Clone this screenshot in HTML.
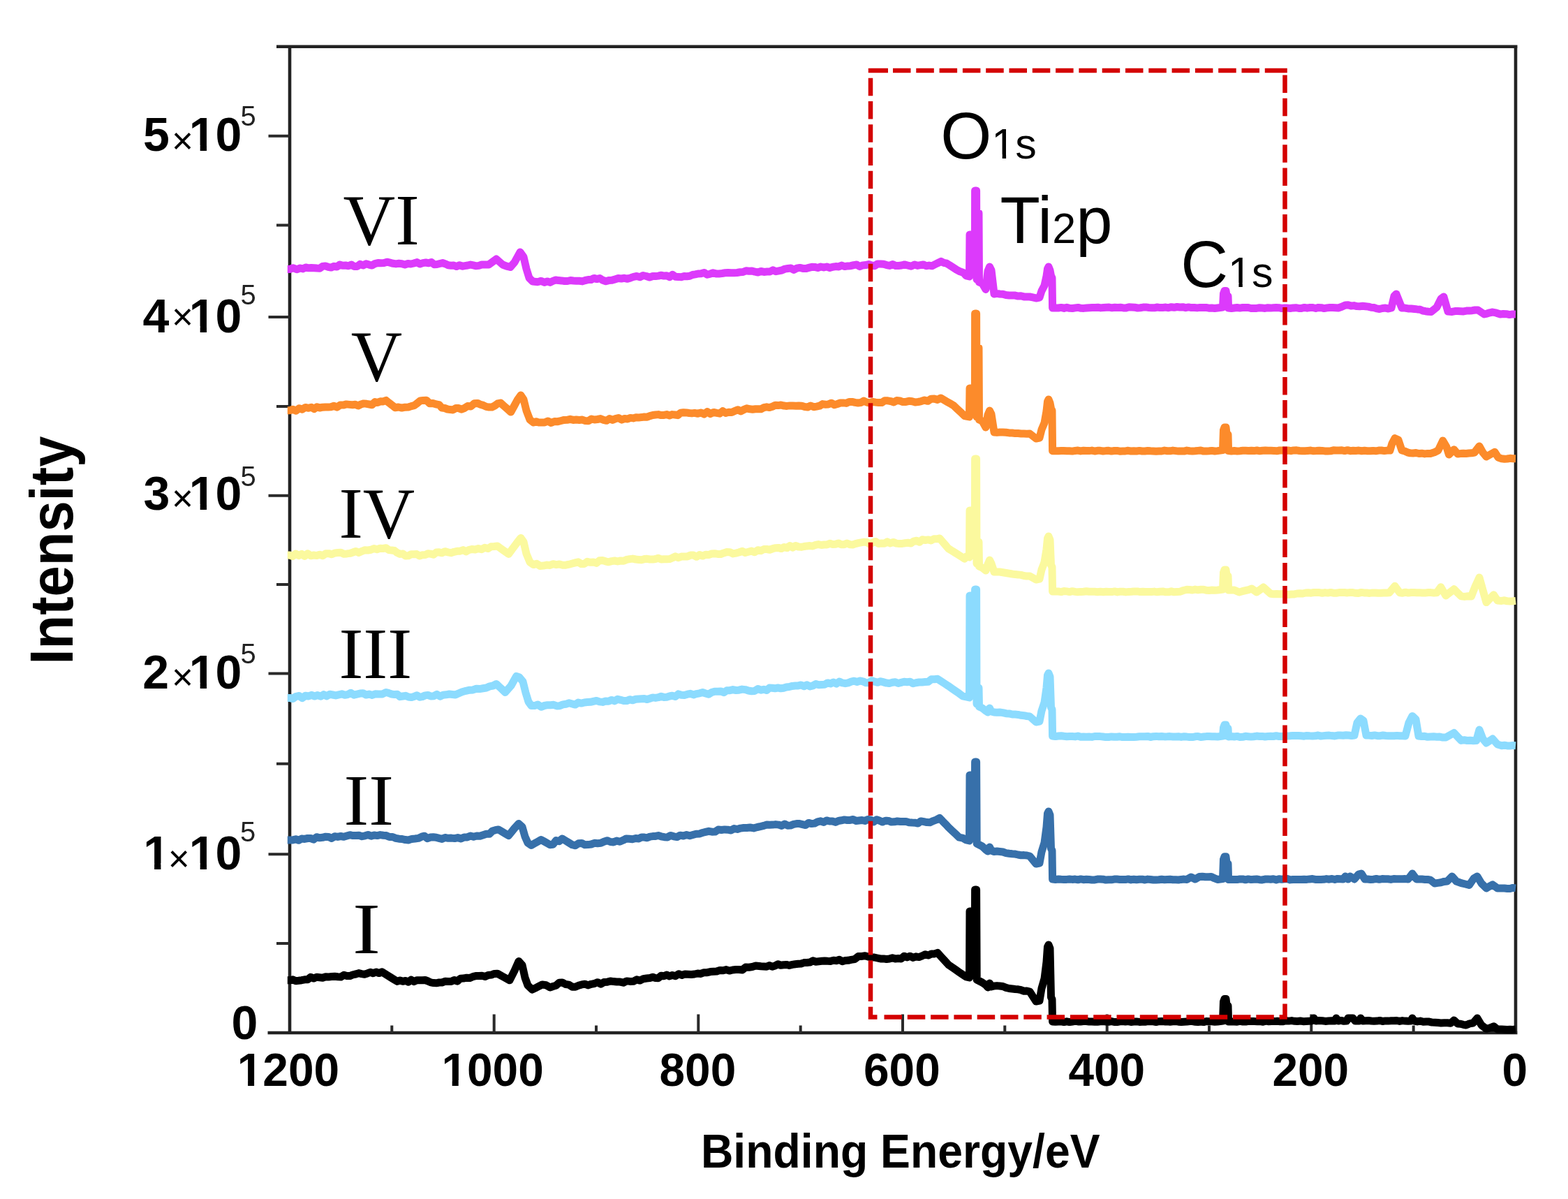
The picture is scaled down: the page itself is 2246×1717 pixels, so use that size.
<!DOCTYPE html>
<html><head><meta charset="utf-8"><title>XPS survey spectra</title>
<style>html,body{margin:0;padding:0;background:#fff;overflow:hidden;}svg{display:block;}</style>
</head><body>
<svg xmlns="http://www.w3.org/2000/svg" width="2246" height="1717" viewBox="0 0 2246 1717">
<rect width="2246" height="1717" fill="#fff"/>
<g stroke="#222" stroke-width="4.6" fill="none" stroke-linecap="butt">
<path d="M396 66.8 H2173.5 M383.5 1479.0 H2173.5 M415.0 64.5 V1481.3 M2171.0 64.5 V1481.3"/>
<path d="M384.5 1223.2 H415.0 M384.5 964.4 H415.0 M384.5 709.7 H415.0 M384.5 454.0 H415.0 M384.5 194.8 H415.0 M396 1351.1 H415.0 M396 1093.8 H415.0 M396 837.0 H415.0 M396 581.9 H415.0 M396 322.6 H415.0 M1878.3 1479.0 V1452.5 M1585.7 1479.0 V1452.5 M1293.0 1479.0 V1452.5 M1000.3 1479.0 V1452.5 M707.7 1479.0 V1452.5 M2024.7 1479.0 V1468.5 M1732.0 1479.0 V1468.5 M1439.3 1479.0 V1468.5 M1146.7 1479.0 V1468.5 M854.0 1479.0 V1468.5 M561.3 1479.0 V1468.5 " stroke="#2a2a2a" stroke-width="4.0"/>
</g>
<path d="M411.8 385.5 415.0 385.5 420.0 383.7 425.0 385.8 430.0 384.0 434.0 384.9 438.0 383.0 442.0 383.8 446.0 383.6 450.0 383.7 454.0 384.0 458.0 384.2 462.0 381.4 466.0 380.9 470.0 382.3 474.2 383.1 478.3 381.3 482.5 382.1 486.7 379.0 490.8 380.2 495.0 380.0 499.2 380.8 503.3 379.0 507.5 381.6 511.7 381.4 515.8 378.3 520.0 380.0 524.3 377.8 528.6 379.1 532.9 380.1 537.1 377.6 541.4 376.5 545.7 376.7 550.0 376.5 554.3 375.2 558.6 376.2 562.9 377.3 567.1 377.9 571.4 377.3 575.7 377.7 580.0 379.0 584.3 377.6 588.6 378.0 592.9 377.0 597.1 375.6 601.4 378.1 605.7 376.6 610.0 376.0 614.0 376.8 618.0 375.5 622.0 378.7 626.0 378.5 630.0 377.5 634.0 376.6 638.0 377.9 642.0 379.8 646.0 380.3 650.0 380.0 654.0 381.6 658.0 379.7 662.0 381.2 666.0 380.6 670.0 380.0 674.0 379.1 678.0 379.9 682.0 380.8 686.0 380.4 690.0 379.0 695.0 379.0 700.0 379.0 705.5 375.0 711.0 371.0 715.5 375.0 720.0 379.0 725.5 381.1 731.0 382.5 737.0 375.7 741.0 368.4 745.0 361.0 750.0 368.0 754.0 385.0 758.0 398.0 763.0 403.0 770.0 403.7 775.0 402.4 780.0 404.4 784.0 402.9 788.0 404.4 792.0 402.4 796.0 401.0 800.0 401.6 804.3 401.9 808.6 402.5 812.9 402.5 817.1 401.5 821.4 401.9 825.7 402.2 830.0 402.3 834.2 402.9 838.3 401.5 842.5 400.6 846.7 400.5 850.8 398.4 855.0 399.6 859.2 398.5 863.5 401.3 867.8 402.8 872.0 401.6 876.5 401.3 881.0 399.9 885.5 398.5 890.0 399.0 894.4 398.3 898.8 399.3 903.2 397.9 907.6 396.3 912.0 395.5 916.6 396.8 921.2 394.5 925.8 395.5 930.4 397.1 935.0 395.5 939.0 395.6 943.0 395.1 947.0 394.2 951.0 395.1 955.0 394.8 959.2 396.6 963.3 393.3 967.5 396.2 971.7 396.4 975.8 396.8 980.0 395.5 984.0 395.7 988.0 395.2 992.0 393.5 996.0 392.9 1000.0 392.0 1004.3 391.7 1008.6 390.4 1012.9 393.3 1017.1 392.2 1021.4 390.8 1025.7 391.9 1030.0 391.9 1034.3 391.5 1038.6 390.8 1042.9 390.4 1047.1 390.8 1051.4 390.8 1055.7 390.5 1060.0 389.8 1064.3 389.5 1068.6 387.7 1072.9 388.3 1077.1 387.9 1081.4 389.2 1085.7 390.0 1090.0 388.5 1094.3 389.4 1098.6 389.1 1102.9 389.0 1107.1 386.8 1111.4 388.7 1115.7 387.8 1120.0 387.0 1124.3 385.1 1128.6 384.5 1132.9 384.1 1137.1 386.4 1141.4 384.2 1145.7 383.4 1150.0 384.4 1154.3 384.6 1158.6 383.4 1162.9 382.3 1167.1 382.4 1171.4 383.5 1175.7 382.0 1180.0 383.0 1184.3 382.0 1188.6 383.4 1192.9 382.2 1197.1 381.6 1201.4 381.9 1205.7 380.1 1210.0 381.6 1214.3 380.9 1218.6 380.7 1222.9 379.6 1227.1 379.0 1231.4 381.6 1235.7 379.9 1240.0 379.6 1244.3 378.6 1248.6 380.0 1252.9 380.7 1257.1 377.9 1261.4 377.9 1265.7 378.3 1270.0 379.6 1274.3 380.4 1278.6 378.5 1282.9 380.5 1287.1 380.5 1291.4 380.0 1295.7 378.9 1300.0 380.0 1305.0 381.2 1310.0 379.0 1314.2 380.4 1318.3 379.7 1322.5 378.9 1326.7 380.7 1330.8 380.1 1335.0 380.8 1339.3 378.6 1343.7 376.5 1348.0 374.3 1352.0 376.3 1356.0 377.2 1360.0 379.6 1365.0 382.9 1370.0 386.2 1375.0 388.8 1380.0 390.4 1384.0 395.0 1388.5 396.0 1389.0 336.0 1396.5 336.0 1396.6 273.0 1398.6 273.0 1399.0 400.0 1400.6 305.0 1402.0 305.0 1402.5 404.0 1407.0 406.0 1412.0 414.5 1415.0 388.0 1417.5 382.0 1420.0 387.0 1424.0 421.0 1428.0 420.4 1432.0 421.0 1436.5 421.2 1441.0 422.6 1445.5 423.0 1450.0 423.0 1454.2 423.1 1458.3 424.1 1462.5 423.8 1466.7 424.9 1470.8 425.0 1475.0 425.0 1479.5 425.9 1484.0 427.0 1489.0 426.0 1492.0 416.6 1496.0 409.0 1499.0 395.5 1500.5 385.0 1502.0 382.0 1504.0 387.0 1505.5 395.0 1507.0 398.0 1507.6 441.0 1511.8 440.7 1516.0 441.0 1520.0 440.4 1524.1 441.4 1528.1 440.3 1532.2 441.3 1536.2 441.5 1540.3 440.9 1544.3 440.4 1548.4 441.3 1552.4 441.4 1556.5 441.0 1560.5 440.8 1564.6 440.6 1568.6 440.5 1572.7 440.3 1576.7 440.9 1580.7 440.5 1584.8 440.2 1588.8 440.1 1592.9 440.8 1596.9 440.3 1601.0 440.5 1605.0 440.3 1609.1 440.9 1613.1 440.9 1617.2 439.8 1621.2 440.0 1625.3 440.2 1629.3 441.0 1633.3 440.7 1637.4 440.1 1641.4 439.9 1645.5 440.5 1649.5 440.7 1653.6 440.8 1657.6 440.0 1661.7 440.6 1665.7 440.4 1669.8 440.1 1673.8 440.7 1677.9 439.7 1681.9 440.3 1686.0 439.5 1690.0 440.0 1694.2 439.7 1698.3 440.7 1702.5 439.9 1706.6 440.6 1710.8 440.5 1714.9 440.9 1719.1 440.4 1723.2 440.4 1727.4 440.4 1731.5 441.2 1735.7 441.0 1739.8 441.5 1744.0 441.0 1751.5 440.0 1752.5 420.5 1754.0 416.5 1756.0 416.5 1757.2 423.9 1759.0 423.9 1759.6 441.0 1763.8 441.5 1768.0 441.0 1772.0 440.5 1776.0 441.1 1780.0 440.5 1784.0 440.4 1788.0 440.5 1792.0 441.5 1796.0 441.4 1800.0 441.4 1804.0 440.8 1808.0 441.1 1812.0 441.4 1816.0 440.8 1820.0 441.1 1824.0 440.7 1828.0 440.5 1832.0 440.7 1836.0 441.5 1840.0 441.0 1844.1 441.1 1848.1 441.5 1852.2 440.9 1856.2 440.7 1860.3 441.4 1864.3 441.4 1868.4 440.4 1872.4 441.2 1876.5 440.5 1880.5 440.5 1884.6 441.5 1888.6 440.4 1892.7 440.7 1896.7 441.6 1900.8 440.9 1904.8 440.5 1908.9 440.6 1912.9 440.7 1917.0 441.0 1922.0 439.3 1927.0 437.0 1931.1 436.7 1935.3 438.0 1939.4 437.6 1943.6 438.6 1947.7 438.7 1951.9 438.2 1956.0 438.7 1960.0 439.1 1964.0 440.2 1968.0 440.5 1972.0 441.9 1976.0 442.5 1980.2 441.5 1984.5 441.1 1988.8 442.0 1993.0 441.0 1997.0 424.0 2000.0 421.0 2004.0 431.0 2008.0 441.0 2012.5 441.1 2017.0 441.9 2021.5 442.1 2026.0 442.5 2030.0 442.9 2034.0 443.2 2038.0 445.0 2042.0 445.7 2046.0 446.3 2050.0 446.4 2054.0 443.2 2058.0 440.0 2064.0 428.0 2068.0 425.0 2074.0 446.0 2080.0 446.4 2084.1 445.6 2088.2 445.5 2092.3 445.7 2096.4 445.9 2100.6 445.1 2104.7 445.0 2108.8 444.7 2112.9 444.0 2117.0 444.0 2121.5 447.0 2126.0 450.0 2130.0 449.1 2134.0 447.8 2138.0 447.0 2143.5 448.2 2149.0 450.0 2153.4 449.5 2157.8 449.7 2162.2 450.6 2166.6 449.9 2171.0 450.0" fill="none" stroke="#dc3afb" stroke-width="11.0" stroke-linejoin="round"/>
<path d="M411.8 587.8 415.0 587.8 419.5 586.2 424.0 588.3 428.5 584.7 433.0 586.2 437.5 583.4 442.0 584.3 446.0 583.2 450.0 585.7 454.0 582.7 458.0 584.0 462.0 583.2 466.0 582.9 470.0 582.9 474.0 582.7 478.4 581.2 482.9 583.1 487.3 580.0 491.7 580.1 496.1 578.9 500.6 579.4 505.0 579.8 509.0 579.3 513.0 581.0 517.0 579.0 521.0 577.9 525.0 578.3 529.0 579.0 533.0 579.8 537.0 575.6 541.0 576.6 545.0 574.8 549.0 574.9 553.0 573.4 557.3 576.9 561.7 580.3 566.0 583.8 570.8 583.0 575.5 584.1 580.2 583.2 585.0 583.0 589.2 581.6 593.4 580.6 597.6 577.5 601.8 574.0 606.0 573.4 610.8 573.2 615.5 577.8 620.2 577.6 625.0 579.0 629.0 579.6 633.0 584.1 637.0 584.5 641.0 586.0 645.0 586.6 649.0 586.9 653.0 584.5 657.0 584.6 661.0 586.2 665.0 584.6 669.8 581.5 674.5 582.0 679.2 577.8 684.0 577.4 688.1 579.2 692.2 580.4 696.4 582.4 700.5 583.1 704.6 583.0 708.7 581.0 712.9 577.9 717.0 577.0 721.9 581.3 726.8 585.7 731.7 590.0 736.4 581.5 741.0 573.0 746.0 566.0 750.0 572.0 754.0 588.0 759.0 601.0 764.0 605.0 768.0 603.7 772.0 605.1 776.0 605.0 780.0 605.0 784.7 603.0 789.5 605.5 794.2 603.5 799.0 603.7 803.7 602.5 808.0 601.4 812.4 601.3 816.7 600.3 821.1 601.4 825.4 601.0 829.8 601.4 834.1 601.1 838.5 602.6 842.8 602.7 847.2 600.0 851.5 601.0 855.8 600.5 860.1 599.6 864.5 601.3 868.8 602.3 873.1 599.5 877.4 601.4 881.7 599.6 886.0 598.5 890.4 601.1 894.7 599.5 899.0 600.0 903.0 598.4 907.0 598.9 911.0 597.7 915.0 597.9 919.0 597.6 923.0 597.0 927.0 597.2 931.0 595.6 935.0 594.5 939.0 594.0 943.0 593.6 947.0 594.6 951.0 594.4 955.0 593.6 959.0 594.9 963.0 593.6 967.0 594.0 971.0 594.7 975.0 591.2 979.0 590.7 983.0 590.9 987.0 591.5 991.0 591.9 995.0 591.4 999.5 592.3 1004.0 590.9 1008.5 593.1 1013.1 589.6 1017.6 592.6 1022.1 590.4 1026.6 591.4 1030.9 592.2 1035.2 588.7 1039.5 591.5 1043.8 590.3 1048.1 590.6 1052.5 588.6 1056.8 586.7 1061.1 589.0 1065.4 586.6 1069.7 584.8 1074.0 585.8 1078.0 586.2 1082.0 585.8 1086.0 585.7 1090.0 585.8 1094.1 583.7 1098.2 582.8 1102.3 583.6 1106.4 582.3 1110.5 580.3 1114.6 580.6 1118.7 580.0 1123.0 581.1 1127.2 581.4 1131.5 580.9 1135.7 581.0 1140.0 581.2 1144.2 581.0 1148.5 581.2 1152.7 582.5 1157.0 583.0 1161.2 581.0 1165.5 582.7 1169.7 582.1 1174.0 581.2 1178.2 578.6 1182.5 579.2 1186.7 578.9 1191.0 577.2 1195.2 579.8 1199.5 578.5 1203.7 577.0 1207.9 576.9 1212.1 577.4 1216.3 575.5 1220.5 575.4 1224.7 576.4 1229.0 577.0 1233.2 576.5 1237.4 574.1 1241.6 576.1 1245.8 577.0 1250.0 575.4 1254.3 576.1 1258.6 576.6 1262.9 576.6 1267.2 573.7 1271.6 573.8 1275.9 574.6 1280.2 575.9 1284.5 573.6 1288.8 573.9 1293.2 575.6 1297.6 575.4 1302.0 574.3 1306.5 574.8 1310.9 576.0 1315.3 575.5 1319.7 574.6 1324.3 573.1 1329.0 574.3 1333.7 571.2 1338.3 571.1 1342.9 572.4 1347.6 570.0 1352.2 572.7 1356.8 575.4 1361.4 578.1 1366.0 580.8 1371.2 585.7 1376.4 590.6 1381.6 595.5 1384.0 596.0 1388.5 597.0 1389.0 556.0 1396.5 556.0 1396.6 449.0 1398.6 449.0 1399.0 597.0 1400.6 498.0 1402.0 498.0 1402.5 601.0 1407.0 603.0 1412.0 612.0 1415.0 594.0 1417.5 588.0 1420.0 593.0 1424.0 619.0 1428.0 619.4 1432.0 619.0 1436.5 619.0 1441.0 619.2 1445.5 619.9 1450.0 620.0 1454.2 620.6 1458.3 620.6 1462.5 621.0 1466.7 621.0 1470.8 621.2 1475.0 621.0 1479.5 624.5 1484.0 628.0 1489.0 627.0 1492.0 615.1 1496.0 605.6 1499.0 588.8 1500.5 575.0 1502.0 572.0 1504.0 577.0 1505.5 585.0 1507.0 588.0 1507.6 645.7 1511.8 645.8 1516.0 645.7 1520.0 645.5 1524.0 645.6 1528.0 645.7 1532.0 645.7 1536.0 646.1 1540.0 645.4 1544.0 645.1 1548.0 645.9 1552.0 645.3 1556.0 645.5 1560.0 645.6 1564.0 645.1 1568.0 646.0 1572.0 645.3 1576.0 645.3 1580.0 646.0 1584.0 645.6 1588.0 645.3 1592.0 646.1 1596.0 645.5 1600.0 645.4 1604.0 646.2 1608.0 646.0 1612.0 645.9 1616.0 645.3 1620.0 646.0 1624.0 645.7 1628.0 646.0 1632.0 645.4 1636.0 646.0 1640.0 646.0 1644.0 645.5 1648.0 645.8 1652.0 646.0 1656.0 646.2 1660.0 646.1 1664.0 646.0 1668.0 645.1 1672.0 645.7 1676.0 645.8 1680.0 645.1 1684.0 645.6 1688.0 646.1 1692.0 646.1 1696.0 646.1 1700.0 645.1 1704.0 645.7 1708.0 646.1 1712.0 645.8 1716.0 645.4 1720.0 645.0 1724.0 646.1 1728.0 646.1 1732.0 645.8 1736.0 645.4 1740.0 646.0 1744.0 645.6 1751.5 644.6 1752.5 616.0 1754.0 612.0 1756.0 612.0 1757.2 622.1 1759.0 622.1 1759.6 645.6 1763.8 646.0 1768.0 645.6 1772.1 645.9 1776.1 645.7 1780.2 645.3 1784.2 645.3 1788.3 645.4 1792.3 645.3 1796.4 645.6 1800.4 645.0 1804.5 645.8 1808.5 645.3 1812.6 645.1 1816.7 645.2 1820.7 645.3 1824.8 645.4 1828.8 645.8 1832.9 645.0 1836.9 645.1 1841.0 645.2 1845.0 645.0 1849.1 645.7 1853.1 644.9 1857.2 644.8 1861.3 645.5 1865.3 645.7 1869.4 645.8 1873.4 645.4 1877.5 645.1 1881.5 645.8 1885.6 645.6 1889.6 645.3 1893.7 645.4 1897.7 645.9 1901.8 645.9 1905.9 645.8 1909.9 644.8 1914.0 645.1 1918.0 645.1 1922.1 644.8 1926.1 645.6 1930.2 644.7 1934.2 645.7 1938.3 645.3 1942.3 645.4 1946.4 645.1 1950.5 645.7 1954.5 645.3 1958.6 645.7 1962.6 645.7 1966.7 645.4 1970.7 645.8 1974.8 645.1 1978.8 645.0 1982.9 645.6 1986.9 645.1 1991.0 645.1 1994.0 635.0 1998.0 627.6 2003.0 630.0 2008.0 645.0 2012.0 646.0 2016.0 647.8 2020.0 648.8 2024.1 648.9 2028.3 648.5 2032.4 649.5 2036.6 649.2 2040.7 649.9 2044.9 649.4 2049.0 649.5 2054.5 647.8 2060.0 645.0 2066.7 631.0 2072.0 640.0 2075.4 651.0 2082.7 643.7 2088.0 650.0 2092.0 649.6 2096.0 649.3 2100.0 649.5 2104.0 649.0 2108.0 648.8 2112.0 648.0 2119.0 639.0 2124.0 648.0 2129.0 653.9 2133.0 651.7 2137.0 649.5 2141.0 647.3 2146.0 655.0 2151.0 656.8 2155.0 657.2 2159.0 657.0 2163.0 656.3 2167.0 656.7 2171.0 656.8" fill="none" stroke="#fc8b2b" stroke-width="11.0" stroke-linejoin="round"/>
<path d="M411.8 795.0 415.0 795.0 419.3 796.6 423.6 793.1 427.9 795.6 432.2 793.4 436.5 796.4 440.8 792.8 445.1 795.8 449.4 795.0 453.7 795.6 458.0 794.2 462.3 795.7 466.6 792.7 471.0 792.7 475.3 793.8 479.6 792.0 483.9 791.6 488.2 791.2 492.5 793.2 496.9 792.9 501.2 792.4 505.5 791.0 509.8 789.4 514.1 791.4 518.5 789.3 522.8 787.7 527.1 788.0 531.4 787.3 535.7 785.5 540.0 786.7 544.4 785.3 548.7 785.5 553.0 784.7 557.0 787.6 561.0 788.0 565.0 788.5 569.0 791.6 573.0 793.4 577.0 793.0 581.0 796.0 585.0 795.8 589.0 793.7 593.0 793.8 597.0 793.6 601.0 796.0 605.0 794.8 609.0 794.6 613.0 792.7 617.0 793.1 621.0 794.2 625.0 791.0 629.0 790.8 633.0 791.8 637.3 789.7 641.7 790.8 646.0 791.7 650.3 790.3 654.7 789.3 659.0 789.2 663.4 787.6 667.7 789.9 672.0 787.3 676.4 786.5 680.7 787.0 685.2 785.6 689.8 786.7 694.3 784.2 698.9 785.6 703.4 782.8 708.0 782.5 712.5 782.0 716.5 784.9 720.5 787.7 724.5 790.5 728.5 793.4 734.2 785.7 740.0 778.0 746.0 770.4 750.0 776.0 754.0 793.0 759.0 805.0 764.0 808.6 768.8 807.2 773.5 810.4 778.3 810.1 783.0 809.1 787.8 809.4 792.3 807.7 796.9 808.7 801.4 807.9 806.0 809.3 810.5 809.2 815.1 808.2 819.6 807.0 823.9 805.9 828.3 804.8 832.6 807.5 837.0 807.4 841.3 804.3 845.7 805.3 850.0 804.9 854.4 806.4 858.7 802.7 863.1 802.5 867.4 803.8 871.7 804.8 876.1 803.6 880.4 803.0 884.7 803.9 889.0 803.0 893.4 803.2 897.7 801.4 902.0 800.6 906.3 800.1 910.7 801.0 915.0 801.4 919.0 801.7 923.0 800.6 927.0 800.3 931.0 801.0 935.0 801.1 939.0 800.5 943.0 799.3 947.0 801.0 951.0 800.7 955.0 800.8 959.0 800.6 963.0 799.0 967.3 796.8 971.7 798.7 976.0 797.1 980.3 796.9 984.7 796.9 989.0 795.1 993.4 795.0 997.7 797.3 1002.0 794.5 1006.4 796.1 1010.7 794.2 1015.0 794.6 1019.4 793.0 1023.7 792.7 1028.1 793.4 1032.4 793.5 1036.8 791.9 1041.1 790.6 1045.5 790.7 1049.8 792.9 1054.2 792.1 1058.5 791.0 1063.0 789.3 1067.5 791.5 1072.0 790.3 1076.5 789.1 1081.0 790.8 1085.5 787.7 1090.0 788.7 1094.2 786.5 1098.4 786.5 1102.6 787.2 1106.8 785.7 1111.0 784.7 1115.1 784.4 1119.2 785.6 1123.3 783.5 1127.4 784.6 1131.4 781.5 1135.5 784.1 1139.6 781.5 1143.7 783.0 1147.8 783.4 1151.9 782.5 1156.0 781.9 1160.1 781.6 1164.1 782.0 1168.2 780.4 1172.3 779.6 1176.4 780.5 1180.5 780.0 1184.6 779.9 1188.7 778.3 1192.8 779.6 1196.9 779.2 1200.9 777.9 1205.0 779.7 1209.1 779.8 1213.2 778.0 1217.3 779.7 1221.4 780.0 1225.5 778.6 1229.6 777.6 1233.6 776.9 1237.7 776.2 1241.8 776.5 1245.9 779.0 1250.0 777.0 1254.2 775.5 1258.5 778.6 1262.7 777.9 1266.9 778.3 1271.1 775.9 1275.4 777.9 1279.6 776.4 1283.8 778.1 1288.0 778.6 1292.3 778.4 1296.5 777.7 1300.6 777.3 1304.8 778.0 1308.9 775.1 1313.0 774.2 1317.1 776.2 1321.2 772.8 1325.4 773.5 1329.5 772.9 1333.6 774.0 1337.8 771.7 1341.9 771.8 1346.0 771.0 1350.1 775.8 1354.3 780.7 1358.4 785.5 1363.0 788.4 1367.7 791.3 1372.3 794.2 1377.0 797.1 1381.6 800.0 1384.0 797.0 1388.5 798.0 1389.0 731.0 1396.5 731.0 1396.6 657.0 1398.6 657.0 1399.0 807.0 1400.6 776.0 1402.0 776.0 1402.5 811.0 1407.0 813.0 1412.0 817.0 1415.0 808.0 1417.5 802.0 1420.0 807.0 1424.0 819.0 1428.0 819.0 1432.0 819.0 1436.5 819.7 1441.0 820.5 1445.5 821.2 1450.0 822.0 1454.2 822.6 1458.3 822.9 1462.5 823.4 1466.7 824.5 1470.8 825.1 1475.0 825.0 1479.5 827.5 1484.0 830.0 1489.0 829.0 1492.0 815.7 1496.0 805.2 1499.0 786.6 1500.5 771.0 1502.0 768.0 1504.0 773.0 1505.5 809.0 1507.0 812.0 1507.6 847.0 1511.8 846.7 1516.0 847.0 1520.0 847.6 1524.0 846.5 1528.0 846.9 1532.0 847.6 1536.0 846.7 1540.0 847.4 1544.0 847.8 1548.0 847.4 1552.0 847.2 1556.0 846.7 1560.0 847.3 1564.1 847.2 1568.1 847.3 1572.2 847.7 1576.2 847.2 1580.3 847.7 1584.4 847.2 1588.4 847.5 1592.5 847.6 1596.6 846.9 1600.6 847.9 1604.7 847.2 1608.8 847.3 1612.8 847.9 1616.9 847.4 1620.9 847.3 1625.0 846.9 1629.1 846.9 1633.1 847.6 1637.2 847.3 1641.2 847.5 1645.3 847.5 1649.4 847.5 1653.4 847.1 1657.5 847.8 1661.6 847.2 1665.6 846.9 1669.7 847.8 1673.8 847.8 1677.8 846.8 1681.9 847.8 1685.9 847.5 1690.0 847.3 1695.0 845.5 1700.0 844.3 1704.0 844.5 1708.0 845.0 1712.0 844.1 1716.0 844.8 1720.0 844.3 1724.0 844.2 1728.0 845.3 1732.0 845.4 1736.0 845.1 1740.0 845.3 1744.0 845.0 1751.5 844.0 1752.5 820.0 1754.0 816.0 1756.0 816.0 1757.2 824.7 1759.0 824.7 1759.6 845.0 1763.8 844.9 1768.0 845.0 1775.0 848.0 1779.5 846.7 1784.0 845.6 1788.5 844.6 1793.0 843.0 1800.0 848.0 1804.9 844.5 1809.8 841.0 1814.9 845.6 1820.0 850.3 1824.3 850.7 1828.6 850.5 1832.9 850.8 1837.1 850.6 1841.4 851.2 1845.7 851.4 1850.0 851.0 1854.0 850.9 1858.0 850.0 1862.0 849.7 1866.0 850.0 1870.0 849.0 1874.0 848.8 1878.0 849.2 1882.0 848.5 1886.0 848.5 1890.0 848.6 1894.0 849.2 1898.0 848.6 1902.0 849.1 1906.0 848.4 1910.0 849.2 1914.0 849.2 1918.0 848.6 1922.0 848.6 1926.0 848.6 1930.0 848.9 1934.0 848.5 1938.0 848.6 1942.0 849.3 1946.0 849.4 1950.0 848.4 1954.0 848.9 1958.0 849.1 1962.0 849.4 1966.0 848.9 1970.0 848.9 1974.0 849.2 1978.0 849.2 1982.0 849.1 1986.0 849.0 1990.0 848.8 1994.0 844.0 1998.0 839.3 2005.0 848.8 2009.1 849.2 2013.2 848.2 2017.2 849.1 2021.3 848.5 2025.4 848.6 2029.5 848.7 2033.5 848.8 2037.6 848.9 2041.7 848.9 2045.8 848.6 2049.8 848.6 2053.9 849.0 2058.0 848.8 2063.8 840.8 2071.0 853.0 2076.8 848.4 2082.7 843.7 2087.8 848.8 2093.0 853.9 2097.8 854.4 2102.7 853.8 2107.5 853.9 2113.0 840.0 2119.0 827.0 2124.0 845.0 2129.0 862.6 2134.2 857.2 2139.5 851.7 2145.0 860.0 2151.0 860.4 2155.0 859.8 2159.0 860.8 2163.0 860.9 2167.0 860.8 2171.0 860.4" fill="none" stroke="#fbf99e" stroke-width="11.0" stroke-linejoin="round"/>
<path d="M411.8 999.4 415.0 999.4 419.5 1000.6 424.0 997.3 428.5 996.5 433.0 999.6 437.5 996.3 442.0 997.0 446.3 995.3 450.7 997.0 455.0 995.6 459.3 997.2 463.6 994.6 468.0 996.9 472.3 994.3 476.6 995.0 480.9 995.9 485.3 994.8 489.6 993.8 493.9 995.3 498.3 994.5 502.6 992.2 507.0 995.2 511.3 994.1 515.7 993.1 520.0 992.7 524.4 995.1 528.7 994.1 533.1 995.4 537.4 993.8 542.6 994.0 547.8 993.9 553.0 991.4 557.0 992.6 561.0 994.0 565.0 994.6 569.0 994.3 573.0 997.7 577.0 997.0 581.0 996.3 585.0 998.0 589.0 998.6 593.0 997.5 597.0 995.7 601.0 998.2 605.0 997.6 609.0 995.9 613.0 995.4 617.0 997.0 621.4 996.7 625.8 994.4 630.3 997.2 634.7 995.2 639.1 994.8 643.5 994.0 648.0 994.5 652.4 994.9 656.8 993.0 662.1 990.7 667.4 989.3 672.7 988.2 677.5 987.9 682.3 986.2 687.0 986.6 691.8 985.8 696.6 985.0 701.4 982.9 706.2 982.0 711.0 979.5 715.2 983.5 719.5 987.4 723.7 991.4 727.9 986.7 732.0 982.0 739.6 968.3 744.0 970.0 749.0 976.0 753.0 992.0 757.0 1005.0 761.0 1010.5 765.7 1010.6 770.4 1009.0 775.1 1012.3 779.8 1010.5 784.2 1009.7 788.6 1009.7 793.1 1009.3 797.5 1010.9 801.9 1010.7 806.3 1008.9 810.8 1008.2 815.2 1006.8 819.6 1008.0 823.9 1009.1 828.3 1006.1 832.6 1007.1 837.0 1006.0 841.3 1005.6 845.7 1005.3 850.0 1004.3 854.4 1003.4 858.7 1004.9 863.1 1005.4 867.4 1004.0 871.7 1004.3 876.1 1002.4 880.4 1003.9 884.7 1001.3 889.0 1002.3 893.4 1003.5 897.7 1003.6 902.0 1001.7 906.3 1002.8 910.7 1001.3 915.0 1001.0 919.0 1000.7 923.0 1000.5 927.0 1001.6 931.0 1000.3 935.0 998.9 939.0 999.4 943.0 998.7 947.0 997.3 951.0 998.4 955.0 998.2 959.0 997.0 963.0 996.2 967.3 997.5 971.7 993.9 976.0 995.3 980.3 995.5 984.7 994.2 989.0 993.3 993.4 994.9 997.7 993.6 1002.0 992.8 1006.4 991.6 1010.7 993.0 1015.0 994.2 1019.4 991.6 1023.7 990.3 1028.1 990.2 1032.4 989.9 1036.8 991.7 1041.1 988.8 1045.5 988.7 1049.8 987.6 1054.2 988.5 1058.5 988.2 1063.0 987.1 1067.5 987.6 1072.0 989.0 1076.5 989.7 1081.0 989.4 1085.5 986.5 1090.0 988.2 1094.0 987.3 1098.1 988.5 1102.1 985.1 1106.2 985.2 1110.2 985.8 1114.3 984.9 1118.3 985.8 1122.4 985.2 1126.4 983.9 1130.6 983.5 1134.8 982.4 1139.1 982.1 1143.3 981.9 1147.5 980.9 1151.7 982.8 1155.9 980.7 1160.1 983.0 1164.4 981.9 1168.6 979.5 1172.8 980.8 1177.0 980.4 1181.2 980.3 1185.5 977.9 1189.7 979.0 1193.9 977.0 1198.1 979.2 1202.3 976.0 1206.5 977.9 1210.8 978.7 1215.0 977.8 1219.2 976.1 1223.4 975.2 1227.6 976.4 1231.9 975.0 1236.1 975.8 1240.3 977.8 1244.5 977.7 1248.7 974.8 1252.9 976.2 1257.2 977.3 1261.4 975.7 1265.6 976.9 1269.8 978.1 1274.0 978.5 1278.3 977.3 1282.5 976.7 1286.7 978.5 1290.9 977.4 1295.1 976.3 1299.3 976.7 1303.6 976.3 1307.8 978.8 1312.0 977.7 1316.4 977.0 1320.9 976.9 1325.3 976.5 1329.7 976.3 1334.1 972.7 1338.6 972.7 1343.0 972.3 1348.1 975.6 1353.3 979.0 1358.4 982.3 1363.6 985.9 1368.7 989.5 1373.9 993.1 1379.0 996.9 1384.0 998.0 1388.5 999.0 1389.0 853.0 1396.5 853.0 1396.6 844.0 1398.6 844.0 1399.0 1008.0 1400.6 985.0 1402.0 985.0 1402.5 1012.0 1407.0 1014.0 1412.0 1018.0 1415.0 1020.0 1417.5 1014.0 1420.0 1019.0 1424.0 1020.0 1428.0 1020.3 1432.0 1020.0 1436.5 1020.6 1441.0 1021.7 1445.5 1021.9 1450.0 1023.0 1454.2 1023.1 1458.3 1023.4 1462.5 1024.3 1466.7 1024.7 1470.8 1025.5 1475.0 1026.0 1479.5 1030.0 1484.0 1034.0 1489.0 1033.0 1492.0 1017.9 1496.0 1006.0 1499.0 985.0 1500.5 967.0 1502.0 964.0 1504.0 969.0 1505.5 1013.0 1507.0 1016.0 1507.6 1054.0 1511.8 1054.6 1516.0 1054.0 1520.0 1053.7 1524.0 1054.3 1528.0 1054.7 1532.0 1054.5 1536.0 1054.5 1540.0 1054.9 1544.0 1054.0 1548.0 1055.3 1552.0 1055.1 1556.0 1055.3 1560.0 1055.0 1564.0 1055.4 1568.0 1054.5 1572.0 1054.5 1576.0 1054.6 1580.0 1055.0 1584.0 1055.6 1588.0 1055.5 1592.0 1054.9 1596.0 1055.2 1600.0 1055.3 1604.0 1054.8 1608.0 1055.6 1612.0 1055.6 1616.0 1055.3 1620.0 1055.5 1624.0 1055.4 1628.0 1055.2 1632.0 1054.8 1636.0 1054.7 1640.0 1054.7 1644.0 1054.4 1648.0 1055.5 1652.0 1054.7 1656.0 1054.4 1660.0 1054.8 1664.0 1054.5 1668.0 1054.9 1672.0 1054.8 1676.0 1054.6 1680.0 1055.0 1684.0 1054.9 1688.0 1054.8 1692.0 1055.4 1696.0 1054.8 1700.0 1055.1 1704.0 1055.5 1708.0 1055.6 1712.0 1054.8 1716.0 1054.4 1720.0 1055.6 1724.0 1055.0 1728.0 1054.6 1732.0 1054.5 1736.0 1054.7 1740.0 1054.8 1744.0 1055.0 1751.5 1054.0 1752.5 1042.0 1754.0 1038.0 1756.0 1038.0 1757.2 1043.1 1759.0 1043.1 1759.6 1055.0 1763.8 1054.5 1768.0 1055.0 1772.0 1054.4 1776.0 1055.5 1780.0 1055.3 1784.0 1054.3 1788.0 1054.7 1792.0 1055.1 1796.0 1054.7 1800.0 1054.1 1804.0 1054.4 1808.0 1054.4 1812.0 1055.0 1816.0 1054.5 1820.0 1054.3 1824.0 1054.5 1828.0 1053.7 1832.0 1054.5 1836.0 1054.6 1840.0 1054.4 1844.0 1053.9 1848.0 1053.8 1852.0 1053.4 1856.0 1053.5 1860.0 1053.5 1864.0 1053.8 1868.0 1054.2 1872.0 1053.4 1876.0 1053.7 1880.0 1053.9 1884.0 1053.8 1888.0 1053.0 1892.0 1054.1 1896.0 1053.6 1900.0 1053.2 1904.0 1053.1 1908.0 1053.6 1912.0 1053.9 1916.0 1053.1 1920.0 1053.1 1924.0 1053.3 1928.0 1052.7 1932.0 1053.0 1936.0 1053.6 1940.0 1053.0 1944.0 1035.0 1948.8 1029.0 1953.0 1032.0 1957.0 1053.0 1961.0 1053.1 1965.0 1053.5 1969.0 1052.9 1973.0 1053.7 1977.0 1053.7 1981.0 1053.0 1985.0 1053.5 1989.0 1053.7 1993.0 1053.7 1997.0 1053.8 2001.0 1053.4 2005.0 1053.8 2009.0 1053.7 2013.0 1053.9 2018.0 1035.0 2023.0 1025.4 2028.0 1030.0 2032.0 1054.0 2036.3 1054.6 2040.7 1054.3 2045.0 1055.3 2049.3 1055.0 2053.7 1054.8 2058.0 1055.2 2062.3 1055.1 2066.7 1056.1 2071.0 1056.0 2076.8 1052.8 2082.7 1049.5 2087.8 1055.0 2093.0 1060.4 2097.3 1059.8 2101.7 1060.5 2106.0 1060.2 2110.4 1060.7 2114.7 1060.4 2119.0 1045.0 2124.0 1058.0 2129.0 1064.0 2133.5 1061.0 2138.0 1058.0 2145.0 1066.0 2151.0 1067.7 2155.0 1067.2 2159.0 1067.9 2163.0 1068.0 2167.0 1067.4 2171.0 1067.7" fill="none" stroke="#8cdbfe" stroke-width="11.0" stroke-linejoin="round"/>
<path d="M411.8 1203.0 415.0 1203.0 419.3 1202.9 423.6 1201.8 427.8 1203.3 432.1 1201.0 436.4 1201.4 440.7 1200.5 445.0 1200.5 449.2 1202.1 453.5 1198.7 457.8 1199.8 462.1 1199.3 466.5 1198.2 470.8 1198.4 475.1 1200.4 479.5 1197.7 483.8 1198.4 488.2 1197.5 492.5 1198.3 496.8 1197.0 501.2 1195.7 505.5 1196.6 509.8 1196.4 514.2 1196.3 518.5 1197.7 522.9 1196.8 527.2 1195.5 531.6 1197.2 535.9 1195.9 540.3 1196.6 544.6 1195.6 549.0 1196.3 553.3 1196.6 557.8 1198.5 562.4 1198.5 566.9 1200.3 571.4 1201.2 575.9 1201.5 580.5 1202.6 585.0 1203.0 589.8 1201.4 594.5 1201.0 599.2 1200.4 604.0 1198.2 608.1 1197.2 612.3 1200.7 616.4 1199.1 620.6 1198.7 624.7 1199.2 628.9 1200.4 633.0 1201.4 637.5 1199.5 642.1 1200.3 646.6 1200.1 651.2 1200.6 655.7 1199.6 660.3 1200.9 664.8 1199.0 669.3 1198.9 673.9 1197.0 678.4 1198.3 683.0 1197.0 687.5 1197.3 692.1 1195.7 696.6 1194.2 701.0 1194.3 705.3 1190.0 709.6 1188.7 714.0 1187.9 718.8 1190.8 723.7 1193.7 728.5 1196.6 732.8 1191.3 737.0 1186.0 743.0 1179.5 748.0 1184.0 752.0 1198.0 756.0 1207.0 761.0 1210.5 765.7 1207.8 770.3 1205.2 775.0 1202.5 779.3 1204.9 783.5 1207.3 787.8 1209.7 792.2 1209.2 796.5 1203.6 800.9 1204.7 805.3 1201.0 810.1 1203.9 814.8 1206.8 819.6 1209.7 824.2 1210.8 828.7 1207.7 833.3 1207.4 837.8 1209.8 842.4 1209.6 846.9 1209.0 851.5 1207.3 856.0 1207.7 860.6 1207.3 865.1 1205.2 869.7 1203.7 874.2 1205.5 878.8 1205.9 883.3 1204.1 887.8 1205.3 892.4 1203.3 896.9 1201.0 901.4 1201.2 905.9 1201.7 910.5 1200.5 915.0 1201.0 919.0 1198.9 923.0 1199.1 927.0 1199.8 931.0 1198.1 935.0 1197.6 939.0 1197.4 943.0 1196.5 947.0 1197.8 951.6 1198.7 956.1 1198.9 960.7 1196.4 965.2 1197.8 969.8 1198.6 974.3 1196.2 978.9 1197.0 983.4 1195.6 988.0 1196.8 992.5 1195.5 997.1 1194.2 1001.6 1194.1 1006.2 1192.5 1010.7 1191.4 1015.2 1190.3 1019.8 1191.2 1024.3 1191.1 1028.9 1188.0 1033.4 1188.5 1038.0 1187.9 1042.5 1188.2 1047.1 1189.1 1051.6 1186.5 1056.2 1187.5 1060.7 1186.1 1065.3 1185.5 1069.8 1185.5 1074.4 1185.0 1079.6 1185.9 1084.8 1184.5 1090.0 1183.4 1094.2 1182.4 1098.4 1181.0 1102.6 1181.2 1106.8 1181.1 1111.0 1180.6 1115.3 1181.1 1119.6 1182.4 1123.9 1180.0 1128.2 1182.2 1132.4 1182.1 1136.7 1180.4 1141.0 1179.6 1145.3 1179.6 1149.6 1180.6 1153.9 1181.6 1158.2 1178.4 1162.5 1179.6 1166.8 1179.1 1171.1 1176.8 1175.4 1175.8 1179.7 1177.5 1184.0 1174.9 1188.3 1176.0 1192.5 1176.0 1196.7 1177.4 1201.0 1175.5 1205.2 1174.8 1209.4 1173.9 1213.6 1174.5 1217.8 1174.4 1222.0 1173.5 1226.3 1175.5 1230.5 1175.0 1234.7 1174.5 1238.9 1175.5 1243.1 1173.5 1247.3 1174.2 1251.5 1176.9 1255.7 1173.8 1260.0 1175.3 1264.2 1177.1 1268.4 1175.2 1272.6 1175.4 1276.8 1177.1 1281.0 1176.8 1285.2 1176.0 1289.5 1176.4 1293.7 1176.6 1297.9 1176.4 1302.1 1177.7 1306.4 1178.1 1310.6 1178.2 1314.8 1179.1 1319.0 1175.9 1323.3 1176.7 1327.5 1177.6 1332.1 1177.8 1336.8 1175.6 1341.4 1173.9 1346.0 1171.4 1350.1 1175.8 1354.3 1180.1 1358.4 1184.5 1363.6 1189.4 1368.8 1194.3 1374.0 1199.2 1379.0 1200.1 1384.0 1203.0 1388.5 1204.0 1389.0 1110.0 1396.5 1110.0 1396.6 1091.0 1398.6 1091.0 1399.2 1208.0 1407.0 1212.0 1412.0 1216.8 1415.0 1219.0 1417.5 1213.0 1420.0 1218.0 1424.0 1219.5 1428.0 1219.0 1432.0 1219.5 1436.5 1220.0 1441.0 1221.6 1445.5 1222.3 1450.0 1222.8 1454.2 1223.1 1458.3 1224.0 1462.5 1224.7 1466.7 1224.6 1470.8 1225.0 1475.0 1226.0 1479.5 1231.5 1484.0 1237.0 1489.0 1236.0 1492.0 1219.8 1496.0 1207.0 1499.0 1184.5 1500.5 1165.0 1502.0 1162.0 1504.0 1167.0 1505.5 1215.0 1507.0 1218.0 1507.6 1259.0 1511.8 1259.4 1516.0 1259.0 1520.0 1259.3 1524.0 1259.5 1528.0 1259.4 1532.0 1259.0 1536.0 1259.4 1540.0 1259.1 1544.0 1259.8 1548.0 1258.9 1552.0 1259.7 1556.0 1259.3 1560.0 1259.5 1564.0 1260.0 1568.0 1259.9 1572.0 1259.1 1576.0 1258.9 1580.0 1259.2 1584.0 1260.1 1588.0 1259.8 1592.0 1259.8 1596.0 1259.1 1600.0 1259.1 1604.0 1259.4 1608.0 1259.5 1612.0 1259.6 1616.0 1258.9 1620.0 1259.9 1624.0 1259.2 1628.0 1259.8 1632.0 1259.3 1636.0 1259.2 1640.0 1260.0 1644.0 1259.1 1648.0 1259.5 1652.0 1260.0 1656.0 1259.9 1660.0 1259.8 1664.0 1259.2 1668.0 1259.7 1672.0 1259.5 1676.0 1259.3 1680.0 1259.8 1684.0 1259.7 1688.0 1260.0 1692.0 1259.4 1696.0 1259.1 1700.0 1259.5 1706.0 1256.0 1712.0 1259.0 1718.0 1255.5 1722.2 1255.2 1726.5 1255.8 1730.8 1255.8 1735.0 1255.5 1739.5 1257.7 1744.0 1259.5 1751.5 1258.5 1752.5 1230.8 1754.0 1226.8 1756.0 1226.8 1757.2 1236.6 1759.0 1236.6 1759.6 1259.5 1763.8 1259.4 1768.0 1259.5 1772.0 1259.6 1776.0 1258.9 1780.0 1258.9 1784.0 1259.8 1788.0 1258.9 1792.0 1259.6 1796.0 1259.2 1800.0 1259.0 1804.0 1259.7 1808.0 1259.9 1812.0 1259.1 1816.0 1258.9 1820.0 1259.3 1824.0 1258.8 1828.0 1259.9 1832.0 1258.7 1836.0 1259.3 1840.0 1258.8 1844.0 1258.6 1848.0 1259.9 1852.0 1259.5 1856.0 1259.5 1860.0 1259.5 1864.0 1259.6 1868.0 1259.3 1872.0 1259.4 1876.0 1258.9 1880.0 1258.6 1884.0 1259.4 1888.0 1259.4 1892.0 1259.4 1896.0 1259.3 1900.0 1258.6 1904.0 1259.2 1908.0 1258.5 1912.0 1259.5 1916.0 1258.4 1920.0 1258.7 1924.0 1259.0 1927.0 1255.0 1931.0 1259.0 1934.0 1255.0 1940.0 1259.0 1946.0 1252.0 1950.0 1251.0 1955.0 1259.0 1959.1 1259.0 1963.3 1259.5 1967.4 1259.2 1971.5 1258.5 1975.7 1259.3 1979.8 1258.6 1983.9 1258.8 1988.1 1258.8 1992.2 1259.4 1996.3 1258.6 2000.5 1258.8 2004.6 1258.7 2008.7 1258.7 2012.9 1258.6 2017.0 1259.0 2023.0 1251.0 2029.0 1259.0 2033.0 1259.1 2037.0 1259.1 2041.0 1259.4 2045.0 1259.5 2049.0 1260.2 2055.0 1265.0 2059.5 1264.4 2064.0 1263.7 2068.5 1262.4 2073.0 1262.0 2079.8 1255.0 2086.0 1262.0 2093.0 1264.6 2098.8 1266.0 2104.5 1267.5 2111.0 1258.0 2116.0 1255.0 2122.0 1265.0 2129.0 1271.9 2133.5 1269.3 2138.0 1266.8 2145.0 1272.0 2151.0 1271.9 2155.0 1272.0 2159.0 1272.5 2163.0 1272.5 2167.0 1271.4 2171.0 1271.9" fill="none" stroke="#3770aa" stroke-width="11.0" stroke-linejoin="round"/>
<path d="M411.8 1403.8 415.0 1403.8 419.3 1402.8 423.6 1404.7 427.8 1404.3 432.1 1403.7 436.4 1402.8 440.7 1402.8 445.0 1399.2 449.2 1401.1 453.5 1399.3 457.8 1399.8 462.1 1400.3 466.5 1398.8 470.8 1398.9 475.1 1398.5 479.5 1398.3 483.8 1398.8 488.2 1399.0 492.5 1396.3 496.8 1397.6 501.2 1397.6 505.5 1395.8 509.6 1395.0 513.8 1393.6 518.0 1394.6 522.1 1395.2 526.2 1393.9 530.4 1392.3 534.5 1393.7 538.7 1392.0 542.9 1393.6 547.0 1391.8 551.4 1394.5 555.8 1397.2 560.2 1400.0 564.6 1402.7 569.0 1405.4 573.0 1404.0 577.0 1405.3 581.0 1404.4 585.0 1406.3 589.0 1403.1 593.0 1405.6 597.0 1403.7 601.0 1403.8 605.0 1403.7 609.0 1403.5 613.0 1405.0 617.0 1406.9 621.0 1407.6 625.0 1407.8 629.0 1407.0 633.0 1407.0 637.4 1405.3 641.8 1405.6 646.2 1405.4 650.6 1403.4 655.1 1405.2 659.5 1401.2 663.9 1401.1 668.3 1400.2 672.7 1400.6 677.1 1398.7 681.5 1397.6 686.0 1397.5 690.4 1397.3 694.8 1398.6 699.2 1396.5 703.7 1396.1 708.1 1394.4 712.5 1394.2 716.9 1396.6 721.2 1399.0 725.6 1401.4 730.0 1403.8 737.0 1390.0 743.0 1376.6 748.0 1382.0 752.0 1400.0 756.0 1411.0 762.3 1417.2 767.1 1414.8 771.8 1412.4 776.6 1410.0 782.2 1410.8 787.8 1414.0 792.2 1412.5 796.5 1411.3 800.9 1407.2 805.3 1406.9 810.1 1409.5 814.8 1410.1 819.6 1413.2 824.2 1413.2 828.7 1411.3 833.3 1409.9 837.8 1409.2 842.4 1410.9 846.9 1409.3 851.5 1408.5 856.0 1406.7 860.6 1409.2 865.1 1406.6 869.7 1406.3 874.2 1404.9 878.8 1405.6 883.3 1406.0 888.1 1406.1 892.9 1407.2 897.6 1404.9 902.4 1405.4 907.2 1405.3 912.0 1402.8 916.7 1404.1 921.5 1401.7 926.2 1401.0 931.0 1400.5 935.0 1399.2 939.0 1400.6 943.0 1400.7 947.0 1397.2 951.0 1397.8 955.0 1396.1 959.0 1397.9 963.0 1396.5 967.5 1397.8 972.1 1394.7 976.6 1396.5 981.2 1394.9 985.7 1395.2 990.3 1395.5 994.8 1395.0 999.3 1394.0 1003.9 1394.4 1008.4 1392.7 1013.0 1392.7 1017.5 1391.6 1022.1 1391.3 1026.6 1391.0 1031.2 1389.4 1035.7 1389.8 1040.3 1388.6 1044.8 1390.1 1049.4 1389.0 1053.9 1388.6 1058.5 1388.6 1063.3 1388.9 1068.1 1385.1 1072.8 1385.3 1077.6 1384.5 1082.4 1383.0 1090.0 1383.8 1094.0 1384.0 1098.1 1384.2 1102.1 1382.5 1106.2 1384.3 1110.2 1383.1 1114.3 1380.7 1118.3 1382.3 1122.4 1381.7 1126.4 1381.4 1130.6 1382.5 1134.8 1381.4 1139.1 1380.7 1143.3 1380.3 1147.5 1380.0 1151.7 1378.6 1155.9 1378.4 1160.1 1378.1 1164.4 1375.8 1168.6 1377.2 1172.8 1376.7 1177.0 1376.2 1181.2 1376.0 1185.5 1376.3 1189.7 1376.4 1193.9 1375.3 1198.1 1375.7 1202.3 1374.3 1206.5 1376.7 1210.8 1375.4 1215.0 1375.3 1219.2 1374.4 1224.4 1373.6 1229.5 1369.4 1234.7 1369.4 1239.1 1368.7 1243.5 1370.0 1247.9 1370.7 1252.4 1371.0 1256.8 1372.0 1261.2 1372.9 1265.6 1372.9 1269.8 1373.5 1274.0 1373.0 1278.3 1371.7 1282.5 1373.0 1286.7 1372.6 1290.9 1372.9 1295.1 1369.2 1299.3 1370.9 1303.6 1369.2 1307.8 1371.4 1312.0 1369.8 1316.4 1370.6 1320.9 1368.9 1325.3 1366.8 1329.7 1368.1 1334.1 1366.0 1338.6 1365.9 1343.0 1364.4 1348.1 1370.1 1353.3 1375.7 1358.4 1381.4 1363.6 1385.0 1368.7 1388.6 1373.9 1392.2 1379.0 1395.6 1384.0 1399.0 1388.5 1400.0 1389.0 1305.0 1396.5 1305.0 1396.6 1274.0 1398.6 1274.0 1399.2 1403.0 1407.0 1407.0 1412.0 1410.5 1415.0 1414.0 1417.5 1408.0 1420.0 1413.0 1424.0 1412.0 1428.0 1411.6 1432.0 1412.0 1436.5 1412.5 1441.0 1414.4 1445.5 1415.5 1450.0 1416.0 1454.2 1416.5 1458.3 1416.8 1462.5 1417.7 1466.7 1419.2 1470.8 1419.0 1475.0 1420.0 1479.5 1427.0 1484.0 1434.0 1489.0 1433.0 1492.0 1415.4 1496.0 1401.6 1499.0 1377.3 1500.5 1356.0 1502.0 1353.0 1504.0 1358.0 1505.5 1428.0 1507.0 1431.0 1507.6 1463.0 1511.8 1463.3 1516.0 1463.0 1520.0 1462.8 1524.0 1463.6 1528.0 1462.8 1532.0 1463.6 1536.0 1463.0 1540.0 1462.4 1544.0 1462.9 1548.0 1462.9 1552.0 1462.6 1556.0 1462.5 1560.0 1463.0 1564.0 1463.1 1568.0 1463.3 1572.0 1463.3 1576.0 1462.8 1580.0 1462.6 1584.0 1462.9 1588.0 1463.3 1592.0 1462.6 1596.0 1463.5 1600.0 1463.6 1604.0 1462.8 1608.0 1462.6 1612.0 1463.1 1616.0 1462.6 1620.0 1463.5 1624.0 1463.1 1628.0 1462.9 1632.0 1463.4 1636.0 1463.3 1640.0 1463.3 1644.0 1462.5 1648.0 1462.8 1652.0 1462.8 1656.0 1463.5 1660.0 1462.7 1664.0 1462.5 1668.0 1462.9 1672.0 1462.8 1676.0 1463.2 1680.0 1462.8 1684.0 1462.5 1688.0 1463.2 1692.0 1463.5 1696.0 1463.2 1700.0 1463.1 1704.0 1462.5 1708.0 1462.6 1712.0 1463.2 1716.0 1463.6 1720.0 1463.0 1724.0 1463.6 1728.0 1462.5 1732.0 1462.7 1736.0 1462.7 1740.0 1463.2 1744.0 1463.0 1751.5 1462.0 1752.5 1434.5 1754.0 1430.5 1756.0 1430.5 1757.2 1440.2 1759.0 1440.2 1759.6 1463.0 1763.8 1462.8 1768.0 1463.0 1772.1 1463.2 1776.2 1462.4 1780.3 1463.1 1784.4 1463.1 1788.6 1462.4 1792.7 1462.4 1796.8 1462.6 1800.9 1462.7 1805.0 1462.6 1809.1 1463.2 1813.2 1462.1 1817.3 1462.7 1821.4 1462.5 1825.6 1462.6 1829.7 1462.2 1833.8 1462.7 1837.9 1462.8 1842.0 1461.7 1846.1 1462.1 1850.2 1461.6 1854.3 1462.3 1858.4 1462.5 1862.6 1462.0 1866.7 1462.7 1870.8 1462.4 1874.9 1462.2 1879.0 1462.0 1882.0 1458.0 1885.0 1462.0 1889.5 1461.5 1894.0 1461.7 1898.5 1462.4 1903.0 1462.0 1907.5 1461.7 1912.0 1462.0 1914.0 1458.0 1917.0 1462.0 1921.0 1461.4 1925.0 1462.3 1929.0 1462.0 1931.0 1458.0 1938.0 1458.0 1941.0 1462.0 1947.0 1462.0 1949.0 1458.0 1952.0 1462.0 1956.1 1461.7 1960.1 1461.5 1964.2 1462.0 1968.2 1462.3 1972.3 1462.1 1976.4 1461.4 1980.4 1462.5 1984.5 1461.9 1988.5 1462.1 1992.6 1461.7 1996.6 1461.8 2000.7 1461.5 2004.8 1462.4 2008.8 1461.6 2012.9 1462.1 2016.9 1462.3 2021.0 1462.0 2023.0 1458.0 2026.0 1462.0 2030.2 1462.9 2034.4 1462.1 2038.7 1463.3 2042.9 1463.1 2047.1 1463.1 2051.3 1464.1 2055.6 1464.2 2059.8 1464.6 2064.0 1465.0 2068.7 1464.7 2073.3 1464.8 2078.0 1465.3 2082.7 1461.0 2088.0 1466.0 2092.0 1466.2 2096.0 1467.3 2100.0 1468.0 2105.0 1465.9 2110.0 1465.0 2116.0 1458.0 2122.0 1468.0 2129.0 1473.3 2134.2 1472.0 2139.5 1469.7 2145.0 1474.0 2151.0 1474.0 2155.0 1474.2 2159.0 1474.5 2163.0 1474.3 2167.0 1474.4 2171.0 1474.0" fill="none" stroke="#000000" stroke-width="11.0" stroke-linejoin="round"/>
<path d="M1243.8 101.0 H1272 M1279.0 101.0 H1304.5 M1312.3 101.0 H1337.8 M1345.6 101.0 H1371.1 M1378.9 101.0 H1404.4 M1412.2 101.0 H1437.7 M1445.5 101.0 H1471.0 M1478.8 101.0 H1504.3 M1512.1 101.0 H1537.6 M1545.4 101.0 H1570.9 M1578.7 101.0 H1604.2 M1612.0 101.0 H1637.5 M1645.3 101.0 H1670.8 M1678.6 101.0 H1704.1 M1711.9 101.0 H1737.4 M1745.2 101.0 H1770.7 M1778.5 101.0 H1804.0 M1811.8 101.0 H1843.8 M1243.8 1456.5 H1256.5 M1266.5 1456.5 H1292.0 M1299.8 1456.5 H1325.3 M1333.1 1456.5 H1358.6 M1366.4 1456.5 H1391.9 M1399.7 1456.5 H1425.2 M1433.0 1456.5 H1458.5 M1466.3 1456.5 H1491.8 M1499.6 1456.5 H1525.1 M1532.9 1456.5 H1558.4 M1566.2 1456.5 H1591.7 M1599.5 1456.5 H1625.0 M1632.8 1456.5 H1658.3 M1666.1 1456.5 H1691.6 M1699.4 1456.5 H1724.9 M1732.7 1456.5 H1758.2 M1766.0 1456.5 H1791.5 M1799.3 1456.5 H1824.8 M1832.6 1456.5 H1843.8 M1247.0 111.7 V137.2 M1247.0 144.9 V170.4 M1247.0 178.2 V203.7 M1247.0 211.4 V236.9 M1247.0 244.7 V270.2 M1247.0 277.9 V303.4 M1247.0 311.2 V336.7 M1247.0 344.4 V369.9 M1247.0 377.7 V403.2 M1247.0 410.9 V436.4 M1247.0 444.2 V469.7 M1247.0 477.4 V502.9 M1247.0 510.7 V536.2 M1247.0 544.0 V569.5 M1247.0 577.2 V602.7 M1247.0 610.5 V636.0 M1247.0 643.7 V669.2 M1247.0 677.0 V702.5 M1247.0 710.2 V735.7 M1247.0 743.5 V769.0 M1247.0 776.7 V802.2 M1247.0 810.0 V835.5 M1247.0 843.2 V868.7 M1247.0 876.5 V902.0 M1247.0 909.7 V935.2 M1247.0 943.0 V968.5 M1247.0 976.2 V1001.7 M1247.0 1009.5 V1035.0 M1247.0 1042.7 V1068.2 M1247.0 1076.0 V1101.5 M1247.0 1109.2 V1134.7 M1247.0 1142.5 V1168.0 M1247.0 1175.7 V1201.2 M1247.0 1209.0 V1234.5 M1247.0 1242.2 V1267.7 M1247.0 1275.5 V1301.0 M1247.0 1308.7 V1334.2 M1247.0 1342.0 V1367.5 M1247.0 1375.2 V1400.7 M1247.0 1408.5 V1434.0 M1247.0 1441.7 V1459.8 M1840.5 107.6 V133.1 M1840.5 140.8 V166.3 M1840.5 174.1 V199.6 M1840.5 207.3 V232.8 M1840.5 240.6 V266.1 M1840.5 273.9 V299.4 M1840.5 307.1 V332.6 M1840.5 340.4 V365.9 M1840.5 373.6 V399.1 M1840.5 406.9 V432.4 M1840.5 440.1 V465.6 M1840.5 473.4 V498.9 M1840.5 506.6 V532.1 M1840.5 539.9 V565.4 M1840.5 573.1 V598.6 M1840.5 606.4 V631.9 M1840.5 639.6 V665.1 M1840.5 672.9 V698.4 M1840.5 706.1 V731.6 M1840.5 739.4 V764.9 M1840.5 772.6 V798.1 M1840.5 805.9 V831.4 M1840.5 839.1 V864.6 M1840.5 872.4 V897.9 M1840.5 905.6 V931.1 M1840.5 938.9 V964.4 M1840.5 972.1 V997.6 M1840.5 1005.4 V1030.8 M1840.5 1038.6 V1064.1 M1840.5 1071.8 V1097.3 M1840.5 1105.1 V1130.6 M1840.5 1138.3 V1163.8 M1840.5 1171.6 V1197.1 M1840.5 1204.8 V1230.3 M1840.5 1238.1 V1263.6 M1840.5 1271.3 V1296.8 M1840.5 1304.6 V1330.1 M1840.5 1337.8 V1363.3 M1840.5 1371.1 V1396.6 M1840.5 1404.3 V1429.8 M1840.5 1437.6 V1459.8 " fill="none" stroke="#d40000" stroke-width="6.5" stroke-linecap="butt"/>
<text x="205.3" y="1244.5" font-family="'Liberation Sans', Arial, sans-serif" font-size="68" font-weight="bold" clip-path="url(#c0)">1</text>
<text x="240.8" y="1248.0" font-family="'Liberation Sans', Arial, sans-serif" font-size="53" fill="#000">×</text>
<text x="270.8" y="1244.5" font-family="'Liberation Sans', Arial, sans-serif" font-size="68" font-weight="bold" clip-path="url(#c1)">10</text>
<text x="344.0" y="1205.1" font-family="'Liberation Sans', Arial, sans-serif" font-size="40" fill="#222">5</text>
<text x="204.2" y="986.0" font-family="'Liberation Sans', Arial, sans-serif" font-size="68" font-weight="bold" fill="#000">2</text>
<text x="246.1" y="988.0" font-family="'Liberation Sans', Arial, sans-serif" font-size="53" fill="#000">×</text>
<text x="270.8" y="986.0" font-family="'Liberation Sans', Arial, sans-serif" font-size="68" font-weight="bold" clip-path="url(#c2)">10</text>
<text x="344.6" y="950.4" font-family="'Liberation Sans', Arial, sans-serif" font-size="40" fill="#222">5</text>
<text x="205.6" y="730.3" font-family="'Liberation Sans', Arial, sans-serif" font-size="68" font-weight="bold" fill="#000">3</text>
<text x="246.1" y="732.3" font-family="'Liberation Sans', Arial, sans-serif" font-size="53" fill="#000">×</text>
<text x="270.8" y="730.3" font-family="'Liberation Sans', Arial, sans-serif" font-size="68" font-weight="bold" clip-path="url(#c3)">10</text>
<text x="344.6" y="696.3" font-family="'Liberation Sans', Arial, sans-serif" font-size="40" fill="#222">5</text>
<text x="204.4" y="475.5" font-family="'Liberation Sans', Arial, sans-serif" font-size="68" font-weight="bold" fill="#000">4</text>
<text x="246.1" y="472.3" font-family="'Liberation Sans', Arial, sans-serif" font-size="53" fill="#000">×</text>
<text x="270.8" y="475.5" font-family="'Liberation Sans', Arial, sans-serif" font-size="68" font-weight="bold" clip-path="url(#c4)">10</text>
<text x="344.6" y="435.7" font-family="'Liberation Sans', Arial, sans-serif" font-size="40" fill="#222">5</text>
<text x="205.1" y="216.1" font-family="'Liberation Sans', Arial, sans-serif" font-size="68" font-weight="bold" fill="#000">5</text>
<text x="246.1" y="220.0" font-family="'Liberation Sans', Arial, sans-serif" font-size="53" fill="#000">×</text>
<text x="270.8" y="216.1" font-family="'Liberation Sans', Arial, sans-serif" font-size="68" font-weight="bold" clip-path="url(#c5)">10</text>
<text x="344.4" y="179.8" font-family="'Liberation Sans', Arial, sans-serif" font-size="40" fill="#222">5</text>
<text x="331.6" y="1487.9" font-family="'Liberation Sans', Arial, sans-serif" font-size="68" font-weight="bold" fill="#000">0</text>
<text x="2151.5" y="1555.3" font-family="'Liberation Sans', Arial, sans-serif" font-size="67.5" font-weight="bold" textLength="36.6" lengthAdjust="spacingAndGlyphs">0</text>
<text x="1822.4" y="1555.3" font-family="'Liberation Sans', Arial, sans-serif" font-size="67.5" font-weight="bold" textLength="109.8" lengthAdjust="spacingAndGlyphs">200</text>
<text x="1530.4" y="1555.3" font-family="'Liberation Sans', Arial, sans-serif" font-size="67.5" font-weight="bold" textLength="109.8" lengthAdjust="spacingAndGlyphs">400</text>
<text x="1237.0" y="1555.3" font-family="'Liberation Sans', Arial, sans-serif" font-size="67.5" font-weight="bold" textLength="109.8" lengthAdjust="spacingAndGlyphs">600</text>
<text x="944.5" y="1555.3" font-family="'Liberation Sans', Arial, sans-serif" font-size="67.5" font-weight="bold" textLength="109.8" lengthAdjust="spacingAndGlyphs">800</text>
<text x="632.4" y="1555.3" font-family="'Liberation Sans', Arial, sans-serif" font-size="67.5" font-weight="bold" textLength="146.4" lengthAdjust="spacingAndGlyphs" clip-path="url(#c6)">1000</text>
<text x="339.7" y="1555.3" font-family="'Liberation Sans', Arial, sans-serif" font-size="67.5" font-weight="bold" textLength="146.4" lengthAdjust="spacingAndGlyphs" clip-path="url(#c7)">1200</text>
<text x="1003.9" y="1672.4" font-family="'Liberation Sans', Arial, sans-serif" font-size="69" font-weight="bold" textLength="571.7" lengthAdjust="spacingAndGlyphs">Binding Energy/eV</text>
<text transform="translate(104.3 951.5) rotate(-90)" font-family="'Liberation Sans', Arial, sans-serif" font-size="87" font-weight="bold" textLength="326.9" lengthAdjust="spacingAndGlyphs">Intensity</text>
<text x="1347.2" y="227.3" font-family="'Liberation Sans', Arial, sans-serif" font-size="94" clip-path="url(#c8)">O<tspan font-size="61">1s</tspan></text>
<text x="1432.4" y="347.8" font-family="'Liberation Sans', Arial, sans-serif" font-size="94">Ti<tspan font-size="61">2</tspan>p</text>
<text x="1691.2" y="411.0" font-family="'Liberation Sans', Arial, sans-serif" font-size="94" clip-path="url(#c9)">C<tspan font-size="61">1s</tspan></text>
<text x="491.6" y="349.8" font-family="'Liberation Serif', 'Times New Roman', serif" font-size="104" textLength="109.1" lengthAdjust="spacingAndGlyphs">VI</text>
<text x="502.8" y="545.0" font-family="'Liberation Serif', 'Times New Roman', serif" font-size="104" textLength="73.4" lengthAdjust="spacingAndGlyphs">V</text>
<text x="485.5" y="769.5" font-family="'Liberation Serif', 'Times New Roman', serif" font-size="104" textLength="108.7" lengthAdjust="spacingAndGlyphs">IV</text>
<text x="485.4" y="971.0" font-family="'Liberation Serif', 'Times New Roman', serif" font-size="104" textLength="104.7" lengthAdjust="spacingAndGlyphs">III</text>
<text x="492.6" y="1181.0" font-family="'Liberation Serif', 'Times New Roman', serif" font-size="104" textLength="71.3" lengthAdjust="spacingAndGlyphs">II</text>
<text x="504.9" y="1365.0" font-family="'Liberation Serif', 'Times New Roman', serif" font-size="104" textLength="40.0" lengthAdjust="spacingAndGlyphs">I</text>
<defs><clipPath id="c0" clipPathUnits="userSpaceOnUse"><rect x="185.3" y="1044.5" width="77.8" height="191.8"/><rect x="185.3" y="1235.8" width="22.8" height="48.2"/><rect x="221.1" y="1235.8" width="9.3" height="48.2"/><rect x="242.7" y="1235.8" width="20.4" height="48.2"/></clipPath><clipPath id="c1" clipPathUnits="userSpaceOnUse"><rect x="250.8" y="1044.5" width="115.6" height="191.8"/><rect x="250.8" y="1235.8" width="22.8" height="48.2"/><rect x="286.7" y="1235.8" width="9.3" height="48.2"/><rect x="308.2" y="1235.8" width="58.2" height="48.2"/></clipPath><clipPath id="c2" clipPathUnits="userSpaceOnUse"><rect x="250.8" y="786.0" width="115.6" height="191.8"/><rect x="250.8" y="977.3" width="22.8" height="48.2"/><rect x="286.7" y="977.3" width="9.3" height="48.2"/><rect x="308.2" y="977.3" width="58.2" height="48.2"/></clipPath><clipPath id="c3" clipPathUnits="userSpaceOnUse"><rect x="250.8" y="530.3" width="115.6" height="191.8"/><rect x="250.8" y="721.6" width="22.8" height="48.2"/><rect x="286.7" y="721.6" width="9.3" height="48.2"/><rect x="308.2" y="721.6" width="58.2" height="48.2"/></clipPath><clipPath id="c4" clipPathUnits="userSpaceOnUse"><rect x="250.8" y="275.5" width="115.6" height="191.8"/><rect x="250.8" y="466.8" width="22.8" height="48.2"/><rect x="286.7" y="466.8" width="9.3" height="48.2"/><rect x="308.2" y="466.8" width="58.2" height="48.2"/></clipPath><clipPath id="c5" clipPathUnits="userSpaceOnUse"><rect x="250.8" y="16.1" width="115.6" height="191.8"/><rect x="250.8" y="207.4" width="22.8" height="48.2"/><rect x="286.7" y="207.4" width="9.3" height="48.2"/><rect x="308.2" y="207.4" width="58.2" height="48.2"/></clipPath><clipPath id="c6" clipPathUnits="userSpaceOnUse"><rect x="612.4" y="1355.3" width="186.4" height="191.8"/><rect x="612.4" y="1546.6" width="22.6" height="48.2"/><rect x="647.7" y="1546.6" width="9.0" height="48.2"/><rect x="668.6" y="1546.6" width="130.1" height="48.2"/></clipPath><clipPath id="c7" clipPathUnits="userSpaceOnUse"><rect x="319.7" y="1355.3" width="186.4" height="191.8"/><rect x="319.7" y="1546.6" width="22.6" height="48.2"/><rect x="355.1" y="1546.6" width="9.0" height="48.2"/><rect x="376.0" y="1546.6" width="130.1" height="48.2"/></clipPath><clipPath id="c8" clipPathUnits="userSpaceOnUse"><rect x="1327.2" y="27.3" width="177.5" height="194.1"/><rect x="1327.2" y="220.9" width="96.3" height="45.9"/><rect x="1435.7" y="220.9" width="5.4" height="45.9"/><rect x="1452.8" y="220.9" width="52.0" height="45.9"/></clipPath><clipPath id="c9" clipPathUnits="userSpaceOnUse"><rect x="1671.2" y="211.0" width="172.3" height="194.1"/><rect x="1671.2" y="404.6" width="91.0" height="45.9"/><rect x="1774.4" y="404.6" width="5.4" height="45.9"/><rect x="1791.6" y="404.6" width="52.0" height="45.9"/></clipPath></defs>
</svg>
</body></html>
